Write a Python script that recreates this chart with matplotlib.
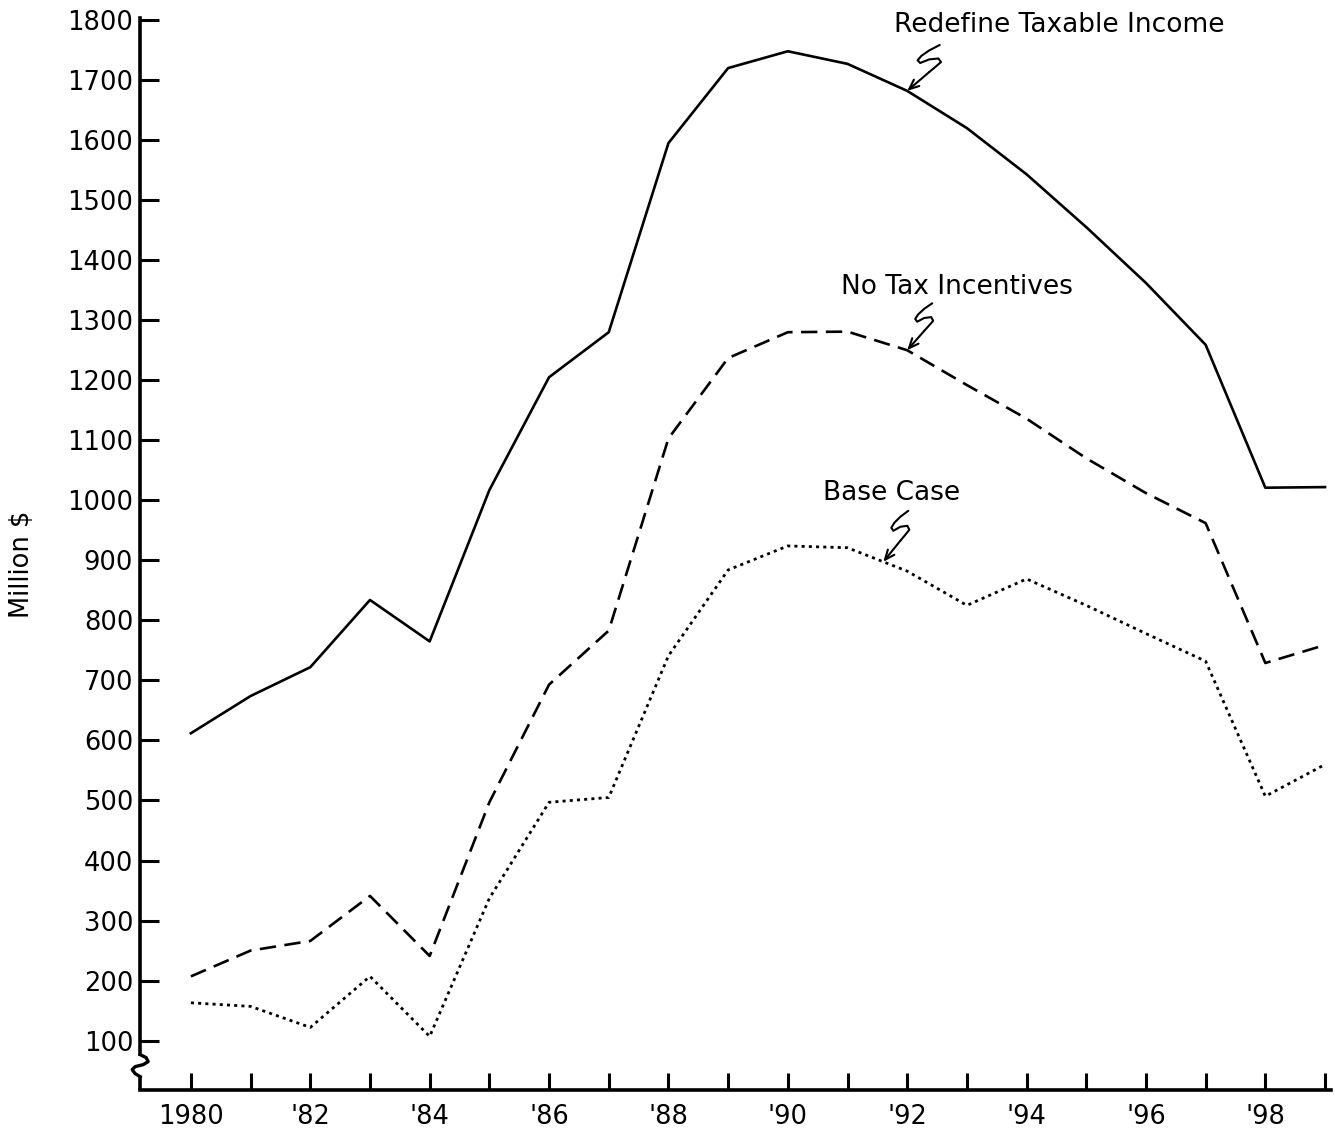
import numpy as np
import matplotlib.pyplot as plt
import matplotlib.transforms as mtransforms

plt.rcParams['font.family'] = ['DejaVu Sans']

years = np.arange(1980, 2000)
redefine = [612, 674, 722, 834, 765, 1017, 1205, 1280, 1595, 1720,
            1748, 1727, 1682, 1620, 1543, 1455, 1362, 1259, 1021, 1022]
no_tax = [207, 250, 266, 341, 241, 497, 693, 783, 1103, 1237,
          1280, 1281, 1250, 1192, 1136, 1070, 1012, 962, 729, 759]
base = [163, 157, 122, 207, 107, 337, 497, 505, 741, 884,
        924, 921, 882, 825, 869, 825, 778, 732, 507, 560]

y_ticks = list(range(100, 1900, 100))
x_labels = ['1980', '', "'82", '', "'84", '', "'86", '', "'88", '',
            "'90", '', "'92", '', "'94", '', "'96", '', "'98", '']

fig = plt.figure(figsize=(13.35, 11.4), dpi=100)
ax = fig.add_axes([0.105, 0.044, 0.892, 0.940])

ax.plot(years, redefine, color='black', lw=1.9, ls='-')
ax.plot(years, no_tax, color='black', lw=1.9, ls=(0, (6.2, 3.2)))
ax.plot(years, base, color='black', lw=2.0, ls=(0, (1.1, 1.5)))

ax.set_xlim(1979.15, 1999.1)
ax.set_ylim(18, 1803)

for s in ['top', 'right']:
    ax.spines[s].set_visible(False)
for s in ['left', 'bottom']:
    ax.spines[s].set_linewidth(2.6)
ax.spines['left'].set_bounds(77, 1803)

ax.set_yticks(y_ticks)
ax.set_yticklabels([str(v) for v in y_ticks])
ax.set_xticks(years)
ax.set_xticklabels(x_labels)
ax.tick_params(axis='both', direction='in', width=2.2, labelsize=18.5, color='black')
ax.tick_params(axis='y', length=14, pad=5)
ax.tick_params(axis='x', length=12, pad=10)

ax.set_ylabel('Million $', fontsize=18.5)
ax.yaxis.set_label_coords(-0.088, 0.49)


def px_trans(x0, y0):
    # pixel offsets (dpi 100) around a data point
    return fig.dpi_scale_trans + mtransforms.ScaledTranslation(x0, y0, ax.transData)


# axis break at the foot of the y axis
x0 = ax.get_xlim()[0]
ax.plot([x0, x0], [18, 40], color='black', lw=2.6, clip_on=False, solid_capstyle='butt')
brk = np.array([(0, 0), (-5, 3), (-8, 7), (-5, 10), (3, 12), (8, 15), (6, 19), (0, 22)]) / 100
ax.plot(brk[:, 0], brk[:, 1], color='black', lw=2.4, clip_on=False,
        transform=px_trans(x0, 40), solid_joinstyle='round')

# S-shaped leaders from the labels down to each curve
s_shape = np.array([(17, 21), (22, 27), (26, 32), (24, 36), (17, 35), (10, 31),
                    (8, 34), (11, 39), (17, 45), (25, 51)], dtype=float)


def leader(x, series, sx, sy):
    y = np.interp(x, years, series)
    pts = s_shape * [sx, sy] / 100
    ax.plot(pts[:, 0], pts[:, 1], color='black', lw=1.5, transform=px_trans(x, y),
            clip_on=False, solid_joinstyle='round', solid_capstyle='round')
    ax.annotate('', xy=(x, y), xytext=(17 * sx, 21 * sy), textcoords='offset pixels',
                arrowprops=dict(arrowstyle='->,head_length=0.7,head_width=0.3',
                                color='black', lw=1.5, shrinkA=0, shrinkB=0))


leader(1992.0, redefine, 1.3, 0.9)
leader(1992.0, no_tax, 1.0, 0.92)
leader(1991.6, base, 1.0, 1.0)

ax.text(1994.55, 1791, 'Redefine Taxable Income', fontsize=19, ha='center', va='center')
ax.text(1992.84, 1355, 'No Tax Incentives', fontsize=19, ha='center', va='center')
ax.text(1991.73, 1012, 'Base Case', fontsize=19, ha='center', va='center')

fig.savefig('out.png', dpi=100)
